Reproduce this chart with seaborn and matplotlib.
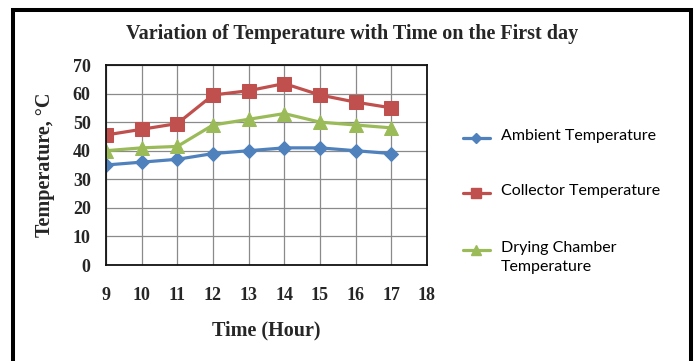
import matplotlib
matplotlib.use("Agg")
import matplotlib.pyplot as plt
import seaborn as sns
import pandas as pd
from matplotlib.lines import Line2D
from matplotlib.patches import Rectangle

hours = [9, 10, 11, 12, 13, 14, 15, 16, 17]
ambient = [35, 36, 37, 39, 40, 41, 41, 40, 39]
collector = [45.5, 47.5, 49.5, 59.5, 61, 63.5, 59.5, 57, 55]
drying = [40, 41, 41.5, 49, 51, 53, 50, 49, 48]
series_names = ["Ambient Temperature", "Collector Temperature", "Drying Chamber\nTemperature"]
x_ticks = [9, 10, 11, 12, 13, 14, 15, 16, 17, 18]
y_ticks = [0, 10, 20, 30, 40, 50, 60, 70]

colors = ["#4F81BD", "#C0504D", "#9BBB59"]
markers = ["D", "s", "^"]
msizes = [7, 9.5, 9.5]

df = pd.DataFrame({
    "Time": hours * 3,
    "Temp": ambient + collector + drying,
    "Series": [series_names[0]] * 9 + [series_names[1]] * 9 + [series_names[2]] * 9,
})

sns.set_style("white")
W, H = 697, 361
fig = plt.figure(figsize=(W / 100, H / 100), dpi=100)
ax = fig.add_axes([106 / W, 1 - 265 / H, (427 - 106) / W, 200 / H])

for name, c, m, ms in zip(series_names, colors, markers, msizes):
    sub = df[df["Series"] == name]
    sns.lineplot(data=sub, x="Time", y="Temp", ax=ax, color=c, marker=m,
                 markersize=ms, markeredgecolor=c, linewidth=2.3, legend=False)

ax.set_xlim(9, 18)
ax.set_ylim(0, 70)
ax.set_xticks(x_ticks)
ax.set_yticks(y_ticks)
ax.grid(True, color="#8a8a8a", linewidth=0.9)
ax.set_axisbelow(True)
for s in ax.spines.values():
    s.set_color("#111111")
    s.set_linewidth(1.3)
ax.tick_params(axis="both", direction="out", length=5, width=1, color="#555555")
ax.tick_params(axis="x", pad=11)
ax.tick_params(axis="y", pad=6)
serif = "Liberation Serif"
for lab in ax.get_xticklabels() + ax.get_yticklabels():
    lab.set_fontfamily(serif)
    lab.set_fontweight("bold")
    lab.set_fontsize(13)
ax.set_xlabel("")
ax.set_ylabel("")

fig.text(266 / W, 1 - 330 / H, "Time (Hour)", ha="center", va="center",
         fontfamily=serif, fontweight="bold", fontsize=14.5)
fig.text(45 / W, 1 - 165 / H, "Temperature, °C", ha="center", va="center",
         rotation=90, fontfamily=serif, fontweight="bold", fontsize=14.5)
fig.text(352 / W, 1 - 34 / H, "Variation of Temperature with Time on the First day",
         ha="center", va="center", fontfamily=serif, fontweight="bold", fontsize=14.5)

# legend
leg_y = [138, 193, 250]
for name, c, m, ms, y in zip(series_names, colors, markers, msizes, leg_y):
    fig.add_artist(Line2D([463 / W, 490 / W], [1 - y / H, 1 - y / H], color=c,
                          linewidth=2.3, transform=fig.transFigure))
    fig.add_artist(Line2D([476.5 / W], [1 - y / H], color=c, marker=m,
                          markersize=ms * 0.8, markeredgecolor=c, linestyle="none",
                          transform=fig.transFigure))
    fig.text(501 / W, 1 - (y - 9) / H, name, ha="left", va="top",
             fontfamily="Lato", fontsize=11.5, color="black", linespacing=1.5)

# outer frame
fig.add_artist(Rectangle((13.5 / W, -0.1), (691 - 13.5) / W, 1.1 - 9.5 / H,
                         transform=fig.transFigure, fill=False,
                         edgecolor="black", linewidth=2.9))

fig.savefig("out.png", dpi=100)
